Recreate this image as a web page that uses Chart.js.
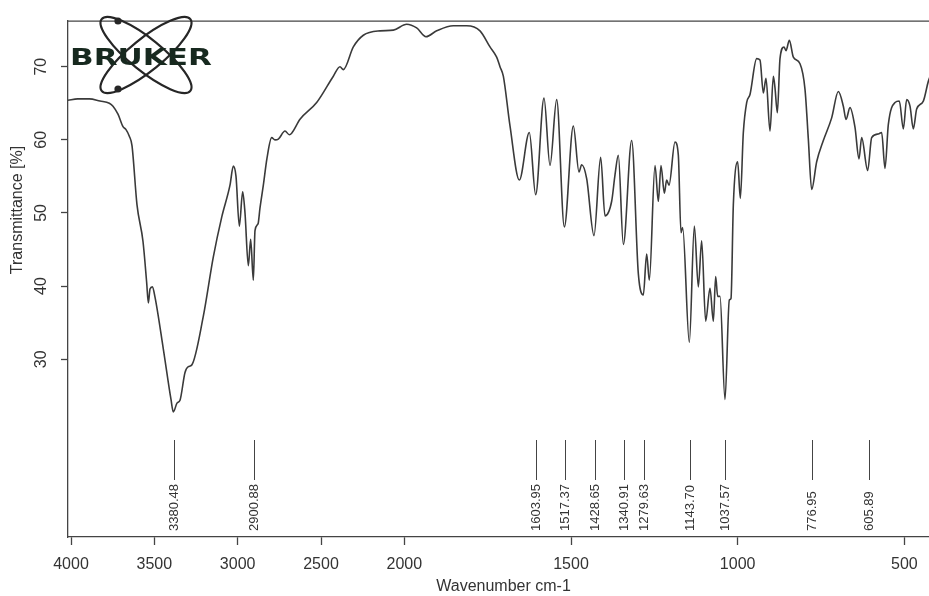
<!DOCTYPE html>
<html>
<head>
<meta charset="utf-8">
<script src="https://cdn.jsdelivr.net/npm/chart.js@4/dist/chart.umd.min.js"></script>
<style>
  html, body { margin: 0; padding: 0; background: #fff; }
</style>
</head>
<body>
<canvas id="ir" width="929" height="596"></canvas>
<script>
// spectrum (wavenumber in cm-1, transmittance in %)
const WAVENUMBER = [
  4018, 3960, 3890, 3826, 3770, 3748, 3718, 3688, 3670, 3650, 3634, 3604, 3568, 3546, 3536, 3526,
  3512, 3496, 3446, 3400, 3386, 3364, 3346, 3316, 3296, 3276, 3206, 3146, 3096, 3046, 3026, 3010,
  2990, 2970, 2956, 2936, 2922, 2906, 2896, 2878, 2866, 2846, 2824, 2796, 2776, 2756, 2716, 2690,
  2676, 2626, 2526, 2426, 2386, 2366, 2306, 2246, 2146, 2066, 1993, 1963, 1935, 1903, 1853, 1813,
  1773, 1743, 1723, 1713, 1703, 1683, 1655, 1625, 1606, 1581, 1563, 1543, 1520, 1493, 1476, 1468,
  1453, 1431, 1411, 1398, 1378, 1368, 1358, 1343, 1318, 1298, 1283, 1273, 1265, 1248, 1238, 1230,
  1220, 1213, 1206, 1188, 1178, 1170, 1165, 1145, 1130, 1118, 1108, 1096, 1083, 1073, 1066, 1060,
  1053, 1038, 1025, 1020, 1013, 1000, 992, 983, 973, 963, 943, 933, 923, 915, 903, 893,
  888, 881, 873, 861, 855, 845, 833, 813, 798, 788, 778, 763, 743, 718, 698, 683,
  675, 663, 648, 636, 628, 610, 598, 578, 568, 558, 548, 528, 515, 503, 493, 483,
  473, 463, 443, 428, 420
];
const TRANSMITTANCE = [
  65.4, 65.6, 65.6, 65.3, 65.0, 64.6, 63.5, 61.8, 61.4, 60.5, 59.2, 51.1, 46.1, 40.5, 37.7, 39.6,
  39.9, 38.5, 31.4, 24.5, 22.8, 24.0, 24.4, 28.2, 29.0, 29.2, 35.9, 44.0, 49.4, 53.8, 56.4, 55.0,
  48.2, 52.9, 50.0, 42.8, 46.4, 40.8, 47.6, 48.5, 50.7, 53.8, 57.5, 60.3, 60.0, 60.1, 61.2, 60.7,
  60.9, 62.8, 65.1, 68.7, 70.0, 69.6, 72.7, 74.3, 74.9, 75.0, 75.8, 75.3, 74.1, 74.9, 75.6, 75.6,
  74.9, 72.7, 71.3, 70.0, 68.7, 61.9, 54.5, 61.0, 52.5, 65.7, 56.5, 65.5, 48.1, 61.9, 55.6, 56.6,
  54.7, 46.9, 57.6, 49.6, 51.6, 55.2, 57.9, 45.7, 59.9, 41.7, 38.8, 44.4, 40.8, 56.5, 51.6, 56.5,
  52.7, 54.5, 53.8, 59.7, 57.9, 47.3, 48.0, 32.3, 48.2, 39.9, 46.2, 35.2, 39.7, 35.2, 41.3, 38.6,
  38.6, 24.5, 38.1, 38.3, 51.1, 57.0, 52.0, 61.0, 65.1, 66.2, 71.1, 70.9, 66.4, 68.4, 61.2, 68.7,
  67.1, 63.7, 71.1, 72.7, 72.2, 73.6, 71.3, 70.4, 66.9, 60.1, 53.2, 57.0, 59.9, 63.0, 66.6, 64.6,
  62.8, 64.4, 61.7, 57.4, 60.3, 55.8, 60.3, 60.8, 61.0, 56.1, 62.1, 65.1, 65.3, 61.5, 65.5, 64.6,
  61.5, 64.2, 65.3, 68.0, 69.0
];
const PEAKS = [3380.48, 2900.88, 1603.95, 1517.37, 1428.65, 1340.91, 1279.63, 1143.70, 1037.57, 776.95, 605.89];
const X_TICKS = [4000, 3500, 3000, 2500, 2000, 1500, 1000, 500];
const Y_TICKS = [30, 40, 50, 60, 70];

const FONT = "'Liberation Sans', Arial, sans-serif";
const INK = '#444';

// OPUS style axis: above 2000 cm-1 the scale is squeezed by half
const BREAK_AT = 2000;
const warp = v => v > BREAK_AT ? BREAK_AT + (v - BREAK_AT) / 2 : v;
const unwarp = u => u > BREAK_AT ? BREAK_AT + (u - BREAK_AT) * 2 : u;

class SplitScale extends Chart.LinearScale {
  getPixelForValue(value) {
    const hi = warp(this.max), lo = warp(this.min);
    return this.getPixelForDecimal((hi - warp(value)) / (hi - lo));
  }
  getValueForPixel(pixel) {
    const hi = warp(this.max), lo = warp(this.min);
    return unwarp(hi - this.getDecimalForPixel(pixel) * (hi - lo));
  }
}
SplitScale.id = 'split';
SplitScale.defaults = Chart.LinearScale.defaults;
Chart.register(SplitScale);

const decor = {
  id: 'decor',
  afterDraw(chart) {
    const { ctx, chartArea: a } = chart;
    const x = chart.scales.x;
    ctx.save();

    // top frame
    ctx.strokeStyle = INK;
    ctx.lineWidth = 1.3;
    ctx.beginPath();
    ctx.moveTo(a.left, a.top + 0.5);
    ctx.lineTo(a.right, a.top + 0.5);
    ctx.stroke();

    // peak markers
    ctx.lineWidth = 1;
    ctx.fillStyle = '#333';
    ctx.font = '13px ' + FONT;
    ctx.textAlign = 'left';
    ctx.textBaseline = 'middle';
    PEAKS.forEach(p => {
      const px = Math.round(x.getPixelForValue(p)) + 0.5;
      ctx.beginPath();
      ctx.moveTo(px, a.bottom - 97);
      ctx.lineTo(px, a.bottom - 57);
      ctx.stroke();
      ctx.save();
      ctx.translate(px, a.bottom - 6);
      ctx.rotate(-Math.PI / 2);
      ctx.fillText(p.toFixed(2), 0, 0);
      ctx.restore();
    });

    // axis titles
    ctx.font = '16px ' + FONT;
    ctx.textAlign = 'center';
    ctx.fillText('Wavenumber cm-1', (a.left + a.right) / 2 + 5, 587);
    ctx.save();
    ctx.translate(18, 210);
    ctx.rotate(-Math.PI / 2);
    ctx.fillText('Transmittance [%]', 0, 0);
    ctx.restore();

    // logo
    ctx.save();
    ctx.translate(146, 55);
    ctx.strokeStyle = '#262626';
    ctx.lineWidth = 2.2;
    [0.68, -0.68].forEach(r => {
      ctx.beginPath();
      ctx.ellipse(0, 0, 57, 16, r, 0, Math.PI * 2);
      ctx.stroke();
    });
    ctx.restore();
    ctx.fillStyle = '#262626';
    [[118, 21], [118, 89]].forEach(([cx, cy]) => {
      ctx.beginPath();
      ctx.arc(cx, cy, 3.6, 0, Math.PI * 2);
      ctx.fill();
    });
    ctx.font = "bold 23px 'DejaVu Sans', sans-serif";
    ctx.textAlign = 'left';
    ctx.textBaseline = 'alphabetic';
    const w = ctx.measureText('BRUKER').width;
    ctx.save();
    ctx.translate(70, 65);
    ctx.scale(142 / w, 1);
    ctx.fillStyle = '#17291f';
    ctx.fillText('BRUKER', 0, 0);
    ctx.restore();

    ctx.restore();
  }
};

const points = WAVENUMBER.map((w, i) => ({ x: w, y: TRANSMITTANCE[i] }));

new Chart(document.getElementById('ir').getContext('2d'), {
  type: 'line',
  data: {
    datasets: [{
      data: points,
      borderColor: '#3a3a3a',
      borderWidth: 1.6,
      pointRadius: 0,
      fill: false,
      cubicInterpolationMode: 'monotone',
    }],
  },
  options: {
    responsive: false,
    animation: false,
    events: [],
    layout: { padding: { top: 13, right: 0, left: 0, bottom: 0 } },
    plugins: { legend: { display: false }, tooltip: { enabled: false } },
    scales: {
      x: {
        type: 'split',
        min: 426,
        max: 4018,
        afterBuildTicks: s => { s.ticks = X_TICKS.map(v => ({ value: v })); },
        afterFit: s => { s.height = 59; },
        border: { color: INK, width: 1.3 },
        grid: { drawOnChartArea: false, tickLength: 8, color: INK, tickWidth: 1.3 },
        ticks: {
          autoSkip: false, maxRotation: 0, padding: 10, color: '#333',
          font: { family: FONT, size: 16 },
          callback: v => String(v),
        },
      },
      y: {
        min: 5.7,
        max: 76.3,
        afterBuildTicks: s => { s.ticks = Y_TICKS.map(v => ({ value: v })); },
        afterFit: s => { s.width = 68; },
        border: { color: INK, width: 1.3 },
        grid: { drawOnChartArea: false, tickLength: 7, color: INK, tickWidth: 1.3 },
        ticks: {
          minRotation: 90, maxRotation: 90, crossAlign: 'center', padding: 11, color: '#333',
          font: { family: FONT, size: 16 },
        },
      },
    },
  },
  plugins: [decor],
});
</script>
</body>
</html>
